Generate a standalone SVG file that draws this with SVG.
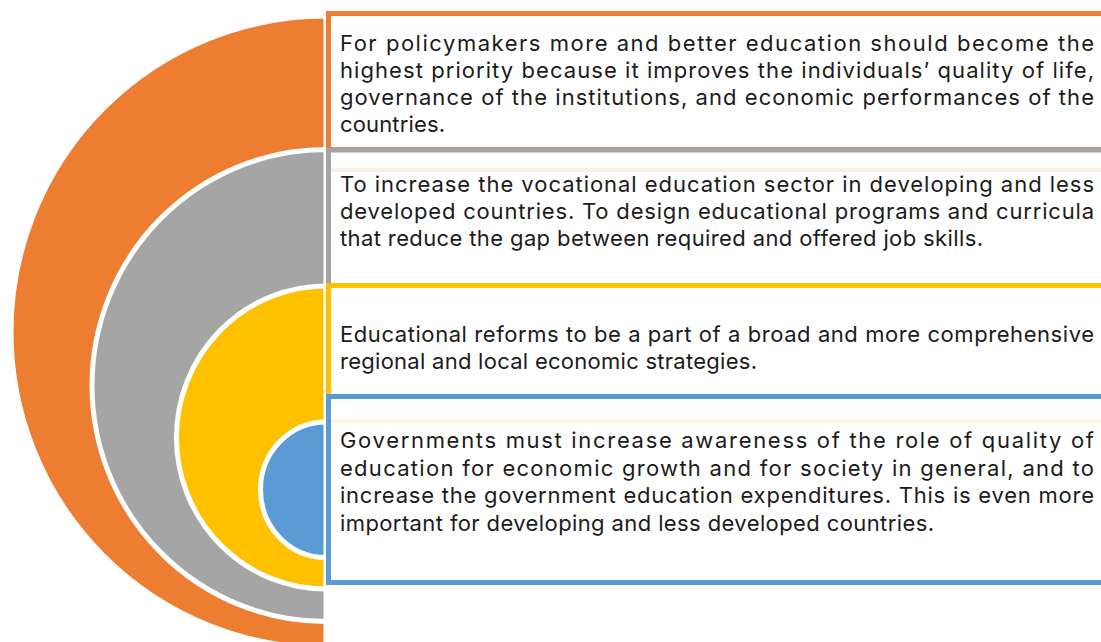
<svg xmlns="http://www.w3.org/2000/svg" width="1101" height="642" viewBox="0 0 1101 642">
<style>
.t{font-family:Inter,"Noto Sans","Liberation Sans",sans-serif;font-size:22px;fill:#1b1b1b}
.arc{stroke:#ffffff;stroke-width:5}
.box{fill:#ffffff;stroke-width:5}
</style>
<rect width="1101" height="642" fill="#ffffff"/>
<g id="rings">
<g id="ring-orange"><path class="arc" d="M326,16 A315,316 0 0 0 326,648 Z" fill="#ED7D31" stroke="none"/></g>
<g id="ring-gray"><path class="arc" d="M326,149.5 A234,236 0 0 0 326,621.5 Z" fill="#A5A5A5"/></g>
<g id="ring-yellow"><path class="arc" d="M326,286 A149.5,151.5 0 0 0 326,589 Z" fill="#FFC000"/></g>
<g id="ring-blue"><path class="arc" d="M326,422 A65.5,67.75 0 0 0 326,557.5 Z" fill="#5B9BD5"/></g>
</g>
<g id="box-orange">
<rect class="box" x="328.5" y="13.5" width="800" height="136" stroke="#ED7D31"/>
<text class="t"><tspan x="340" y="51" textLength="754" lengthAdjust="spacing">For policymakers more and better education should become the</tspan><tspan x="340" y="78" textLength="754" lengthAdjust="spacing">highest priority because it improves the individuals’ quality of life,</tspan><tspan x="340" y="105" textLength="754" lengthAdjust="spacing">governance of the institutions, and economic performances of the</tspan><tspan x="340" y="132" textLength="105" lengthAdjust="spacing">countries.</tspan></text>
</g>
<g id="box-gray">
<rect class="box" x="328.5" y="150" width="800" height="136" stroke="#A5A5A5"/>
<rect x="331" y="168" width="780" height="4" fill="#FBEFE7"/>
<text class="t"><tspan x="340" y="191.5" textLength="754" lengthAdjust="spacing">To increase the vocational education sector in developing and less</tspan><tspan x="340" y="218.5" textLength="754" lengthAdjust="spacing">developed countries. To design educational programs and curricula</tspan><tspan x="340" y="245.5" textLength="643" lengthAdjust="spacing">that reduce the gap between required and offered job skills.</tspan></text>
</g>
<g id="box-yellow">
<rect class="box" x="328.5" y="285.5" width="800" height="111" stroke="#FFC000"/>
<text class="t"><tspan x="340" y="341.5" textLength="754" lengthAdjust="spacing">Educational reforms to be a part of a broad and more comprehensive</tspan><tspan x="340" y="368.5" textLength="417" lengthAdjust="spacing">regional and local economic strategies.</tspan></text>
</g>
<g id="box-blue">
<rect class="box" x="328.5" y="396.5" width="800" height="186" stroke="#5B9BD5"/>
<rect x="331" y="419.5" width="780" height="4" fill="#FFF5E6"/>
<text class="t"><tspan x="340" y="448" textLength="754" lengthAdjust="spacing">Governments must increase awareness of the role of quality of</tspan><tspan x="340" y="475.5" textLength="754" lengthAdjust="spacing">education for economic growth and for society in general, and to</tspan><tspan x="340" y="503" textLength="754" lengthAdjust="spacing">increase the government education expenditures. This is even more</tspan><tspan x="340" y="530.5" textLength="594" lengthAdjust="spacing">important for developing and less developed countries.</tspan></text>
</g>
<g id="connectors"></g>
</svg>
